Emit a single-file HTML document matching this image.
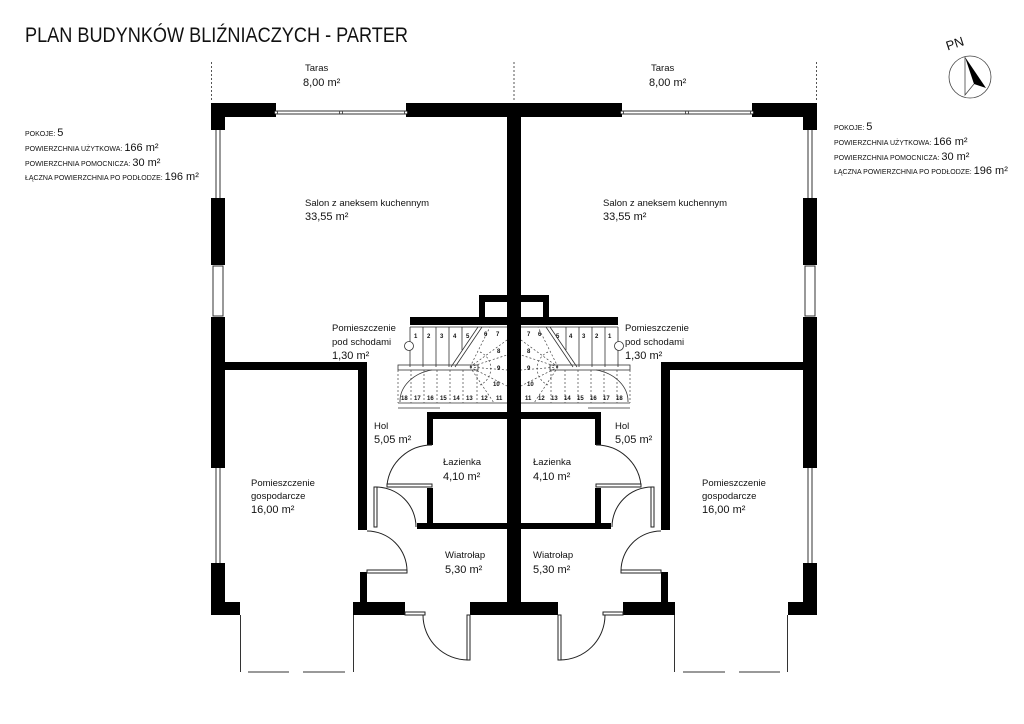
<!DOCTYPE html>
<html><head><meta charset="utf-8"><style>
body{margin:0;background:#fff;width:1024px;height:724px;overflow:hidden}
svg{display:block}
text{font-family:"Liberation Sans",sans-serif;fill:#111}
</style></head><body>
<svg width="1024" height="724" viewBox="0 0 1024 724">
<defs>
<g id="half">
 <line x1="211.5" y1="62" x2="211.5" y2="102" stroke="#555" stroke-dasharray="2,2"/>
 <line x1="514" y1="62" x2="514" y2="102" stroke="#555" stroke-dasharray="2,2"/>
 <g fill="#000">
  <rect x="211" y="103" width="65" height="14"/>
  <rect x="211" y="103" width="14" height="27"/>
  <rect x="406" y="103" width="108" height="14"/>
  <rect x="507" y="103" width="7" height="512"/>
  <rect x="211" y="198" width="14" height="67"/>
  <rect x="211" y="317" width="14" height="151"/>
  <rect x="211" y="563" width="14" height="52"/>
  <rect x="211" y="602" width="29" height="13"/>
  <rect x="353" y="602" width="52" height="13"/>
  <rect x="470" y="602" width="44" height="13"/>
  <rect x="225" y="362" width="142" height="8"/>
  <rect x="358" y="362" width="9" height="168"/>
  <rect x="360" y="572" width="7" height="30"/>
  <rect x="479" y="295" width="28" height="22"/>
  <rect x="410" y="317" width="97" height="8"/>
  <rect x="427" y="412" width="87" height="7"/>
  <rect x="427" y="412" width="6" height="33"/>
  <rect x="427" y="488" width="6" height="37"/>
  <rect x="417" y="523" width="97" height="6"/>
 </g>
 <rect x="485" y="302" width="22" height="15" fill="#fff"/>
 <g fill="none" stroke="#333" stroke-width="1">
  <line x1="276" y1="111" x2="406" y2="111"/><line x1="276" y1="114" x2="406" y2="114"/>
  <line x1="216" y1="130" x2="216" y2="198"/><line x1="220" y1="130" x2="220" y2="198"/>
  <rect x="213" y="266" width="10" height="50"/>
  <line x1="216" y1="468" x2="216" y2="563"/><line x1="220" y1="468" x2="220" y2="563"/>
  <line x1="240.5" y1="615" x2="240.5" y2="672"/><line x1="353.5" y1="615" x2="353.5" y2="672"/>
  <line x1="248" y1="672" x2="289" y2="672"/><line x1="303" y1="672" x2="345" y2="672"/>
 </g>
 <g fill="#fff" stroke="#333" stroke-width="0.8">
  <circle cx="276" cy="112.5" r="1.5"/><circle cx="341" cy="112.5" r="1.5"/><circle cx="406" cy="112.5" r="1.5"/>
 </g>
 <g fill="none" stroke="#222" stroke-width="1">
  <path d="M387 485 A45 45 0 0 1 432 445"/>
  <rect x="387" y="484" width="45" height="3"/>
  <path d="M376 487 A40 40 0 0 1 416 527"/>
  <rect x="374" y="487" width="3" height="40"/>
  <path d="M367 531 A40 40 0 0 1 407 571"/>
  <rect x="367" y="570" width="40" height="3"/>
  <path d="M423 615 A45 45 0 0 0 468 660"/>
  <rect x="467" y="615" width="3" height="45"/>
  <rect x="405" y="612" width="20" height="3"/>
 </g>
 <g fill="none" stroke="#333" stroke-width="0.8">
  <line x1="410" y1="327" x2="507" y2="327"/>
  <line x1="410" y1="327" x2="410" y2="367"/>
  <line x1="423" y1="327" x2="423" y2="367"/><line x1="436" y1="327" x2="436" y2="367"/>
  <line x1="449" y1="327" x2="449" y2="367"/><line x1="462" y1="327" x2="462" y2="350"/>
  <line x1="482" y1="327" x2="455" y2="367"/><line x1="478" y1="327" x2="451" y2="367"/>
  <rect x="398" y="365" width="80" height="5"/>
  <line x1="398" y1="403" x2="507" y2="403"/><line x1="398" y1="408" x2="440" y2="408"/>
  <path d="M400 402 A40 32 0 0 1 432 370"/>
  <circle cx="409" cy="346" r="4.5" fill="#fff"/>
 </g>
 <g fill="none" stroke="#444" stroke-width="0.7" stroke-dasharray="2,2">
  <line x1="398" y1="370" x2="398" y2="403"/>
  <line x1="411" y1="370" x2="411" y2="403"/><line x1="424" y1="370" x2="424" y2="403"/>
  <line x1="437" y1="370" x2="437" y2="403"/><line x1="450" y1="370" x2="450" y2="403"/>
  <line x1="463" y1="370" x2="463" y2="403"/><line x1="477" y1="370" x2="477" y2="403"/>
  <line x1="470" y1="367" x2="507" y2="340"/><line x1="470" y1="367" x2="507" y2="355"/>
  <line x1="470" y1="367" x2="507" y2="370"/><line x1="470" y1="367" x2="507" y2="386"/>
  <line x1="470" y1="367" x2="494" y2="403"/><line x1="470" y1="367" x2="490" y2="327"/>
  <path d="M480 352 A18 18 0 0 1 480 385"/>
 </g>
</g>
</defs>
<use href="#half"/>
<use href="#half" transform="translate(1028,0) scale(-1,1)"/>
<rect x="507" y="103" width="14" height="512" fill="#000"/>

<text x="25" y="42" font-size="21" textLength="383" lengthAdjust="spacingAndGlyphs">PLAN BUDYNKÓW BLIŹNIACZYCH - PARTER</text>

<g font-size="7">
 <text x="25" y="136">POKOJE: <tspan font-size="11">5</tspan></text>
 <text x="25" y="151">POWIERZCHNIA UŻYTKOWA: <tspan font-size="11">166 m²</tspan></text>
 <text x="25" y="166">POWIERZCHNIA POMOCNICZA: <tspan font-size="11">30 m²</tspan></text>
 <text x="25" y="180">ŁĄCZNA POWIERZCHNIA PO PODŁODZE: <tspan font-size="11">196 m²</tspan></text>
 <text x="834" y="130">POKOJE: <tspan font-size="11">5</tspan></text>
 <text x="834" y="145">POWIERZCHNIA UŻYTKOWA: <tspan font-size="11">166 m²</tspan></text>
 <text x="834" y="160">POWIERZCHNIA POMOCNICZA: <tspan font-size="11">30 m²</tspan></text>
 <text x="834" y="174">ŁĄCZNA POWIERZCHNIA PO PODŁODZE: <tspan font-size="11">196 m²</tspan></text>
</g>

<text x="946" y="48" font-size="13" transform="rotate(-18 955 44)">PN</text>
<circle cx="970" cy="77" r="21" fill="none" stroke="#444" stroke-width="0.8"/>
<path d="M965 57 L986 88 L974 84 Z" fill="#000"/>
<path d="M965 57 L965 95 L974 84" fill="none" stroke="#444" stroke-width="0.8"/>

<g font-size="9.5">
 <text x="305" y="71">Taras</text><text x="303" y="86" font-size="11">8,00 m²</text>
 <text x="651" y="71">Taras</text><text x="649" y="86" font-size="11">8,00 m²</text>
 <text x="305" y="206">Salon z aneksem kuchennym</text><text x="305" y="220" font-size="11">33,55 m²</text>
 <text x="603" y="206">Salon z aneksem kuchennym</text><text x="603" y="220" font-size="11">33,55 m²</text>
 <text x="332" y="331">Pomieszczenie</text><text x="332" y="345">pod schodami</text><text x="332" y="359" font-size="11">1,30 m²</text>
 <text x="625" y="331">Pomieszczenie</text><text x="625" y="345">pod schodami</text><text x="625" y="359" font-size="11">1,30 m²</text>
 <text x="374" y="429">Hol</text><text x="374" y="443" font-size="11">5,05 m²</text>
 <text x="615" y="429">Hol</text><text x="615" y="443" font-size="11">5,05 m²</text>
 <text x="443" y="465">Łazienka</text><text x="443" y="480" font-size="11">4,10 m²</text>
 <text x="533" y="465">Łazienka</text><text x="533" y="480" font-size="11">4,10 m²</text>
 <text x="251" y="486">Pomieszczenie</text><text x="251" y="499">gospodarcze</text><text x="251" y="513" font-size="11">16,00 m²</text>
 <text x="702" y="486">Pomieszczenie</text><text x="702" y="499">gospodarcze</text><text x="702" y="513" font-size="11">16,00 m²</text>
 <text x="445" y="558">Wiatrołap</text><text x="445" y="573" font-size="11">5,30 m²</text>
 <text x="533" y="558">Wiatrołap</text><text x="533" y="573" font-size="11">5,30 m²</text>
</g>
<g font-size="6" font-weight="bold">
 <text x="414" y="338">1</text><text x="427" y="338">2</text><text x="440" y="338">3</text><text x="453" y="338">4</text><text x="466" y="338">5</text><text x="484" y="336">6</text><text x="496" y="336">7</text>
 <text x="497" y="353">8</text><text x="497" y="370">9</text><text x="493" y="386">10</text>
 <text x="401" y="400">18</text><text x="414" y="400">17</text><text x="427" y="400">16</text><text x="440" y="400">15</text><text x="453" y="400">14</text><text x="466" y="400">13</text><text x="481" y="400">12</text><text x="496" y="400">11</text>
 <text x="608" y="338">1</text><text x="595" y="338">2</text><text x="582" y="338">3</text><text x="569" y="338">4</text><text x="556" y="338">5</text><text x="538" y="336">6</text><text x="527" y="336">7</text>
 <text x="527" y="353">8</text><text x="527" y="370">9</text><text x="527" y="386">10</text>
 <text x="616" y="400">18</text><text x="603" y="400">17</text><text x="590" y="400">16</text><text x="577" y="400">15</text><text x="564" y="400">14</text><text x="551" y="400">13</text><text x="538" y="400">12</text><text x="525" y="400">11</text>
</g>
</svg>
</body></html>
